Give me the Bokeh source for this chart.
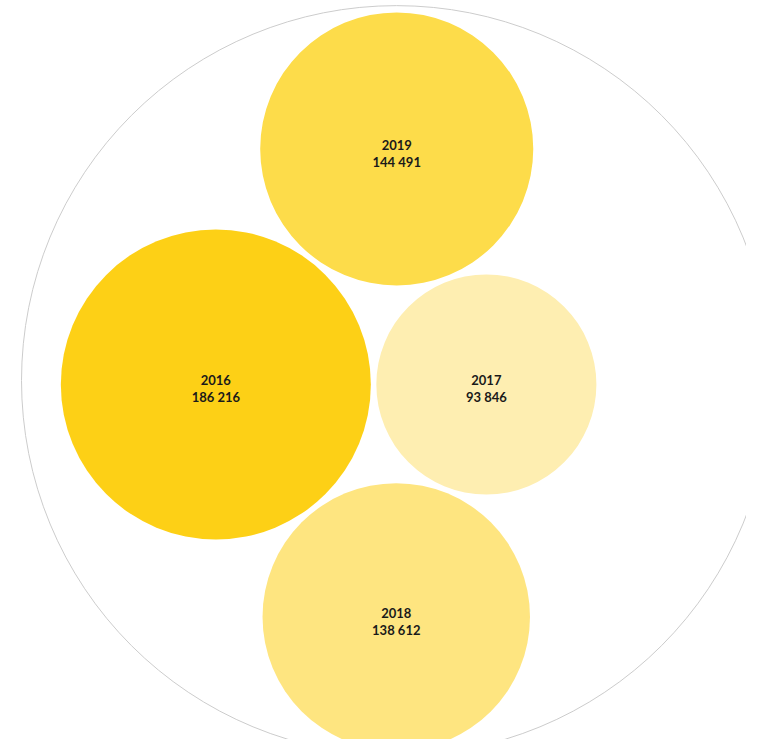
import math
from bokeh.plotting import figure
from bokeh.models import Range1d, ColumnDataSource
from bokeh.core.properties import value
from bokeh.embed import file_html
from bokeh.resources import INLINE

# ---- data ----
years = ["2016", "2017", "2018", "2019"]
values = [186216, 93846, 138612, 144491]
colors = ["#FDD016", "#FEEEB1", "#FEE580", "#FDDC4A"]

# ---- layout parameters ----
W, H = 746, 739
MAX_RADIUS = 155.0          # radius of the largest bubble (px)
GAP = 5.5                   # padding between bubbles (px)
OUTER_CX, OUTER_CY, OUTER_R = 396.0, 380.0, 375.0

# radius proportional to sqrt(value) (area ~ value)
vmax = max(values)
radii = [MAX_RADIUS * math.sqrt(v / vmax) for v in values]
idx = {y: i for i, y in enumerate(years)}


def tangent_point(p0, r0, p1, r1, r, side):
    """Centre of a circle of radius r touching circles (p0,r0) and (p1,r1)."""
    dx, dy = p1[0] - p0[0], p1[1] - p0[1]
    d = math.hypot(dx, dy)
    d0, d1 = r0 + r + GAP, r1 + r + GAP
    a = (d0 ** 2 - d1 ** 2 + d ** 2) / (2 * d)
    h = math.sqrt(max(d0 ** 2 - a ** 2, 0))
    ux, uy = dx / d, dy / d
    return (p0[0] + a * ux - side * h * uy, p0[1] + a * uy + side * h * ux)


# pack: largest at origin, 2017 to its right, 2019 above, 2018 below
pos = [None] * len(years)
i16, i17, i18, i19 = idx["2016"], idx["2017"], idx["2018"], idx["2019"]
pos[i16] = (0.0, 0.0)
pos[i17] = (radii[i16] + radii[i17] + GAP, 0.0)
pos[i19] = tangent_point(pos[i16], radii[i16], pos[i17], radii[i17], radii[i19], -1)
pos[i18] = tangent_point(pos[i16], radii[i16], pos[i17], radii[i17], radii[i18], +1)

# centre the pack in the outer circle
shift_x = OUTER_CX - (pos[i19][0] + pos[i18][0]) / 2
top = pos[i19][1] - radii[i19]
bottom = pos[i18][1] + radii[i18]
shift_y = OUTER_CY + 1 - (top + bottom) / 2
xs = [p[0] + shift_x for p in pos]
ys = [p[1] + shift_y for p in pos]

labels_val = [f"{v:,}".replace(",", " ") for v in values]

src = ColumnDataSource(dict(x=xs, y=ys, r=radii, color=colors,
                            year=years, val=labels_val))

p = figure(width=W, height=H, output_backend="svg", toolbar_location=None,
           x_range=Range1d(0, W), y_range=Range1d(H, 0),
           min_border=0, outline_line_color=None, background_fill_color="white",
           border_fill_color="white")
p.axis.visible = False
p.grid.visible = False

# outer enclosing circle
p.circle(x=[OUTER_CX], y=[OUTER_CY], radius=OUTER_R, fill_color=None,
         line_color="#cccccc", line_width=1)

p.circle(x="x", y="y", radius="r", fill_color="color", line_color=None, source=src)

p.text(x="x", y="y", text="year", source=src, text_align="center",
       text_baseline="middle", y_offset=-4, text_font=value("Lato"),
       text_font_size="13px", text_font_style="bold", text_color="#1a1a1a")
p.text(x="x", y="y", text="val", source=src, text_align="center",
       text_baseline="middle", y_offset=13, text_font=value("Lato"),
       text_font_size="13px", text_font_style="bold", text_color="#1a1a1a")

open("out.html", "w").write(file_html(p, INLINE))
